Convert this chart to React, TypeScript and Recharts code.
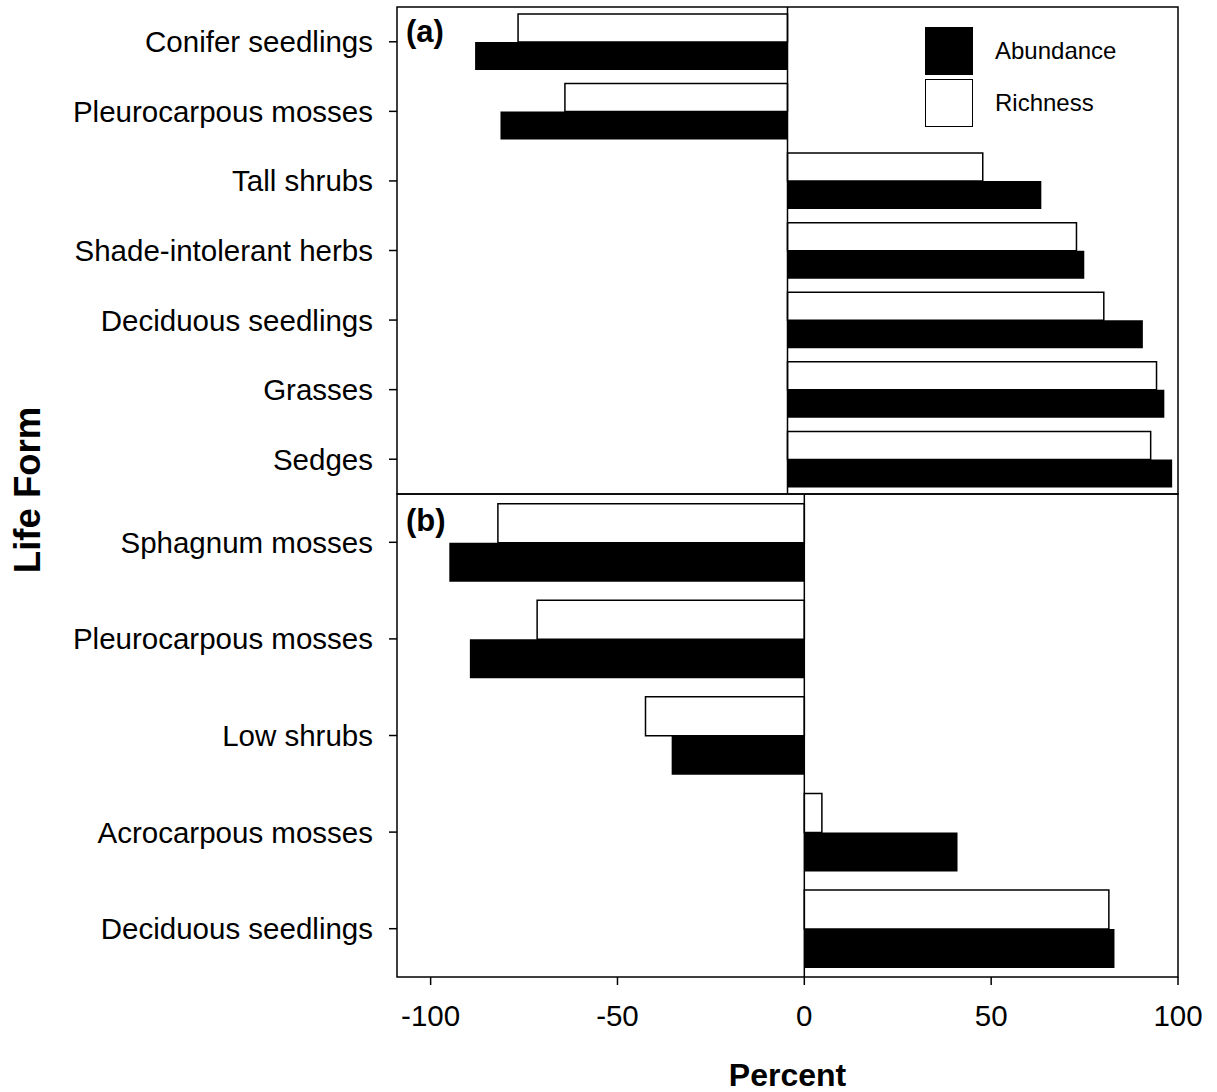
import React from 'react'
import {
  BarChart,
  Bar,
  XAxis,
  YAxis,
  ReferenceLine,
  ReferenceArea,
  Legend,
} from 'recharts'

const FONT = '"Liberation Sans", Arial, Helvetica, sans-serif'

// (a) life forms, percent change
const lifeFormsA = [
  'Conifer seedlings',
  'Pleurocarpous mosses',
  'Tall shrubs',
  'Shade-intolerant herbs',
  'Deciduous seedlings',
  'Grasses',
  'Sedges',
]
const abundanceA = [-80, -73.5, 65, 76, 91, 96.5, 98.5]
const richnessA = [-69, -57, 50, 74, 81, 94.5, 93]

// (b) life forms, percent change
const lifeFormsB = [
  'Sphagnum mosses',
  'Pleurocarpous mosses',
  'Low shrubs',
  'Acrocarpous mosses',
  'Deciduous seedlings',
]
const abundanceB = [-95, -89.5, -35.5, 41, 83]
const richnessB = [-82, -71.5, -42.5, 4.7, 81.5]

const percentTicks = [-100, -50, 0, 50, 100]
const domainA: [number, number] = [-100, 100]
const domainB: [number, number] = [-109, 100]

const legendItems = [
  { key: 'abundance', label: 'Abundance', fill: '#000' },
  { key: 'richness', label: 'Richness', fill: '#fff' },
]

const toRows = (names: string[], abundance: number[], richness: number[]) =>
  names.map((name, i) => ({ name, abundance: abundance[i], richness: richness[i] }))

const rowsA = toRows(lifeFormsA, abundanceA, richnessA)
const rowsB = toRows(lifeFormsB, abundanceB, richnessB)

const tickStyle = { fontSize: 29.5, fill: '#000', fontFamily: FONT }
const tickLineStyle = { stroke: '#000', strokeWidth: 1.5 }

const panelTag = (tag: string, dy: number) => (props: any) => {
  const { x, y } = props.viewBox
  return (
    <text x={x + 9} y={y + dy} fontSize={31} fontWeight="bold" fontFamily={FONT} fill="#000">
      {tag}
    </text>
  )
}

const renderLegend = () => (
  <div style={{ fontFamily: FONT }}>
    {legendItems.map((item) => (
      <div
        key={item.key}
        style={{ display: 'flex', alignItems: 'center', height: 48, marginBottom: 4 }}
      >
        <div
          style={{
            width: 48,
            height: 48,
            boxSizing: 'border-box',
            background: item.fill,
            border: '1.5px solid #000',
          }}
        />
        <span style={{ marginLeft: 22, fontSize: 24, color: '#000' }}>{item.label}</span>
      </div>
    ))}
  </div>
)

export default function App() {
  return (
    <div style={{ position: 'absolute', left: 0, top: 0, width: 1217, height: 1092, background: '#fff' }}>
      <div style={{ position: 'absolute', left: 0, top: 0 }}>
        <BarChart
          layout="vertical"
          width={1217}
          height={500}
          data={rowsA}
          margin={{ top: 7, right: 39, bottom: 6, left: 0 }}
          barCategoryGap="10%"
          barGap={0}
        >
          <XAxis type="number" domain={domainA} allowDataOverflow hide />
          <YAxis
            type="category"
            dataKey="name"
            width={397}
            interval={0}
            tickSize={8}
            tickMargin={16}
            tick={tickStyle}
            tickLine={tickLineStyle}
            axisLine={false}
          />
          <ReferenceArea
            x1={domainA[0]}
            x2={domainA[1]}
            fill="none"
            stroke="#000"
            strokeWidth={1.5}
            ifOverflow="visible"
            label={panelTag('(a)', 35)}
          />
          <ReferenceLine x={0} stroke="#000" strokeWidth={1.5} />
          <Bar dataKey="richness" fill="#fff" stroke="#000" strokeWidth={1.5} isAnimationActive={false} />
          <Bar dataKey="abundance" fill="#000" isAnimationActive={false} />
          <Legend
            layout="vertical"
            align="center"
            verticalAlign="middle"
            wrapperStyle={{ top: 27, left: 925, width: 'auto' }}
            content={renderLegend}
          />
        </BarChart>
      </div>

      <div style={{ position: 'absolute', left: 0, top: 488 }}>
        <BarChart
          layout="vertical"
          width={1217}
          height={604}
          data={rowsB}
          margin={{ top: 6, right: 39, bottom: 0, left: 0 }}
          barCategoryGap="10%"
          barGap={0}
        >
          <XAxis
            type="number"
            domain={domainB}
            ticks={percentTicks}
            allowDataOverflow
            height={115}
            tickSize={8}
            tickMargin={20}
            tick={tickStyle}
            tickLine={tickLineStyle}
            axisLine={false}
            label={{
              value: 'Percent',
              position: 'insideBottom',
              offset: 6,
              fontSize: 32,
              fontWeight: 'bold',
              fill: '#000',
              fontFamily: FONT,
            }}
          />
          <YAxis
            type="category"
            dataKey="name"
            width={397}
            interval={0}
            tickSize={8}
            tickMargin={16}
            tick={tickStyle}
            tickLine={tickLineStyle}
            axisLine={false}
          />
          <ReferenceArea
            x1={domainB[0]}
            x2={domainB[1]}
            fill="none"
            stroke="#000"
            strokeWidth={1.5}
            ifOverflow="visible"
            label={panelTag('(b)', 37)}
          />
          <ReferenceLine x={0} stroke="#000" strokeWidth={1.5} />
          <Bar dataKey="richness" fill="#fff" stroke="#000" strokeWidth={1.5} isAnimationActive={false} />
          <Bar dataKey="abundance" fill="#000" isAnimationActive={false} />
        </BarChart>
      </div>

      <div
        style={{
          position: 'absolute',
          left: 28,
          top: 490,
          transform: 'translate(-50%, -50%) rotate(-90deg)',
          fontFamily: FONT,
          fontWeight: 'bold',
          fontSize: 36.5,
          lineHeight: 1,
          whiteSpace: 'nowrap',
          color: '#000',
        }}
      >
        Life Form
      </div>
    </div>
  )
}
